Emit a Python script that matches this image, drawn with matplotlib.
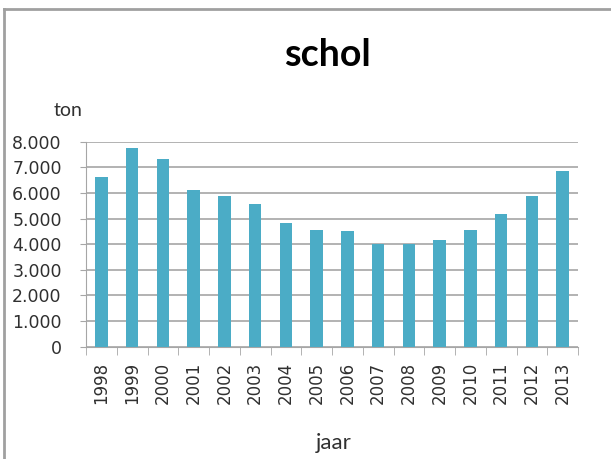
import numpy as np
import matplotlib.pyplot as plt
from matplotlib.lines import Line2D

jaren = ['1998', '1999', '2000', '2001', '2002', '2003', '2004', '2005',
         '2006', '2007', '2008', '2009', '2010', '2011', '2012', '2013']
ton = [6630, 7770, 7340, 6100, 5900, 5570, 4820, 4540,
       4520, 4000, 4000, 4160, 4550, 5170, 5880, 6840]
yticks = [0, 1000, 2000, 3000, 4000, 5000, 6000, 7000, 8000]
ylabels = ['0', '1.000', '2.000', '3.000', '4.000', '5.000', '6.000', '7.000', '8.000']

fig = plt.figure(figsize=(6.11, 4.59), dpi=100)
W, H = 611, 459
ax = fig.add_axes([86 / W, 1 - 346.7 / H, (578 - 86) / W, (346.7 - 141.7) / H])

x = np.arange(len(jaren))
ax.bar(x, ton, width=0.4, color='#4BACC6', zorder=3)
ax.set_xlim(-0.5, len(jaren) - 0.5)
ax.set_ylim(0, 8000)

ax.set_yticks(yticks)
ax.set_yticklabels(ylabels, fontsize=12.5, color='#303030')
ax.grid(axis='y', color='#A6A6A6', linewidth=1.2, zorder=0)

# labels in the middle, tick marks between the categories
ax.set_xticks(x)
ax.set_xticklabels(jaren, rotation=90, fontsize=12, color='#303030')
ax.tick_params(axis='x', length=0, pad=11)
ax.set_xticks(np.arange(-0.5, len(jaren)), minor=True)
ax.tick_params(axis='x', which='minor', length=6, color='#A6A6A6', direction='out')
ax.tick_params(axis='y', length=4.5, color='#A6A6A6', direction='out', pad=13)

for s in ['top', 'right']:
    ax.spines[s].set_visible(False)
ax.spines['left'].set_color('#A6A6A6')
ax.spines['bottom'].set_color('#A6A6A6')

fig.text(327 / W, 1 - 55 / H, 'schol', fontsize=27, fontweight='bold',
         family='Lato', ha='center', va='center')
fig.text(68 / W, 1 - 111 / H, 'ton', fontsize=14, family='Lato',
         ha='center', va='center', color='#303030')
fig.text(334 / W, 1 - 443 / H, 'jaar', fontsize=16, family='Lato',
         ha='center', va='center', color='#303030')

# chart border (left and top)
fig.add_artist(Line2D([3.5 / W, 3.5 / W], [0, 1 - 8.5 / H], transform=fig.transFigure,
                      color='#A0A0A0', linewidth=2))
fig.add_artist(Line2D([3.5 / W, 1], [1 - 8.5 / H, 1 - 8.5 / H], transform=fig.transFigure,
                      color='#A0A0A0', linewidth=2))

fig.savefig('out.png', dpi=100)
